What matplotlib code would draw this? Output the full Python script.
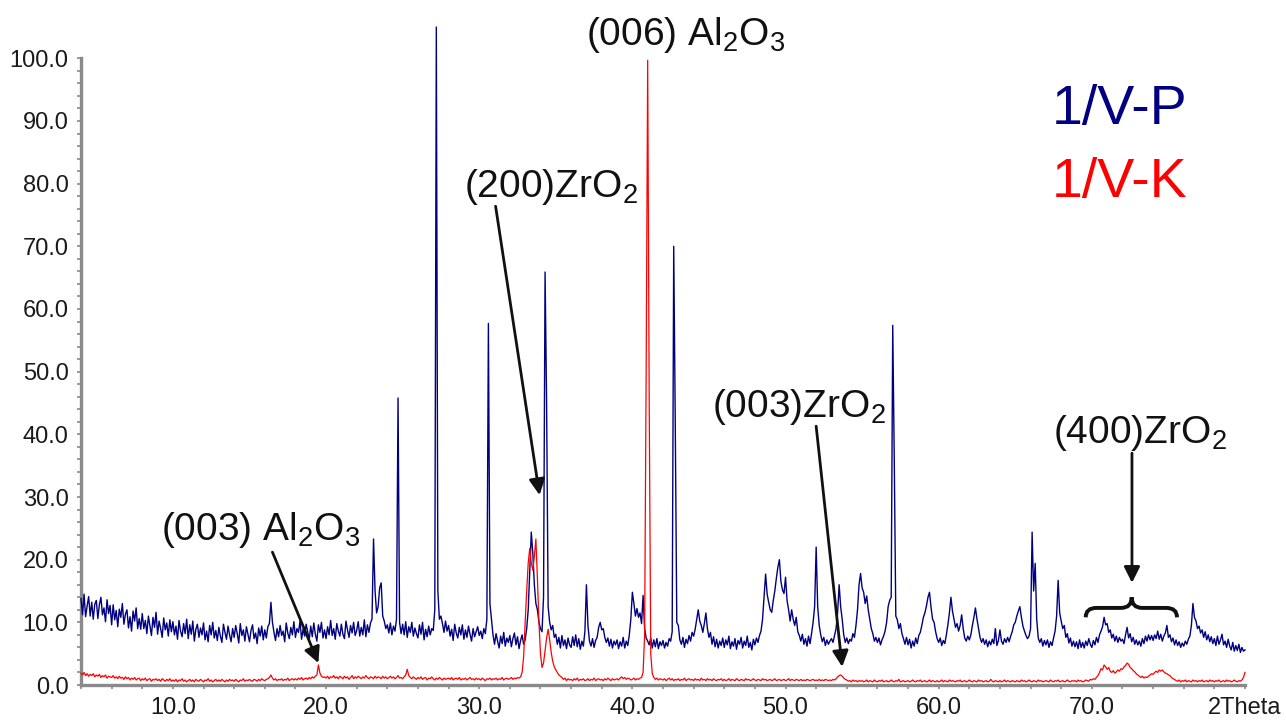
import numpy as np
import matplotlib
matplotlib.use("Agg")
import matplotlib.pyplot as plt
from matplotlib.path import Path
from matplotlib.patches import PathPatch

plt.rcParams['font.family'] = ['Liberation Sans', 'DejaVu Sans']
plt.rcParams['mathtext.default'] = 'regular'

# ---------------- data ----------------
# Intensities sampled every 0.1 deg 2Theta; one row per whole degree (start 4.0)
start_deg = 4
intensity_p = [  # sample 1/V-P (blue)
    [13.8, 11.2, 14.5, 10.9, 12.6, 14.1, 11.0, 13.2, 10.5, 12.9],  # 4
    [13.5, 10.6, 12.8, 14.0, 11.2, 12.3, 10.1, 13.6, 11.4, 12.7],  # 5
    [9.6, 12.8, 10.4, 11.9, 9.3, 12.1, 10.8, 13.0, 9.7, 11.3],  # 6
    [12.0, 9.1, 10.9, 8.6, 11.8, 10.2, 12.3, 9.0, 10.6, 8.9],  # 7
    [11.4, 9.0, 10.3, 8.2, 11.0, 9.5, 7.9, 10.8, 9.2, 11.6],  # 8
    [8.1, 10.2, 9.0, 7.6, 10.7, 8.8, 9.9, 7.8, 10.4, 8.5],  # 9
    [10.1, 8.0, 9.4, 7.3, 10.3, 8.6, 7.7, 9.8, 8.2, 10.5],  # 10
    [7.4, 9.6, 8.1, 10.2, 7.0, 8.9, 9.7, 7.6, 9.1, 8.0],  # 11
    [9.9, 7.2, 8.6, 6.9, 9.5, 8.0, 10.0, 7.5, 8.7, 7.1],  # 12
    [9.2, 7.8, 6.8, 9.7, 8.4, 7.3, 9.4, 8.0, 6.9, 9.0],  # 13
    [7.6, 9.5, 8.2, 6.7, 9.8, 7.9, 8.8, 7.0, 9.3, 8.1],  # 14
    [6.9, 8.7, 9.6, 7.4, 8.3, 6.6, 9.1, 7.8, 9.4, 7.2],  # 15
    [8.8, 7.5, 9.3, 9.8, 13.2, 10.0, 8.4, 7.1, 9.0, 7.7],  # 16
    [9.5, 7.9, 8.6, 6.9, 9.9, 8.3, 7.4, 9.2, 8.0, 10.1],  # 17
    [7.6, 9.0, 8.4, 10.2, 7.3, 8.9, 7.8, 9.7, 8.5, 7.2],  # 18
    [9.4, 7.7, 9.9, 8.1, 7.0, 9.6, 8.4, 10.0, 7.5, 8.8],  # 19
    [7.4, 9.3, 8.0, 10.3, 7.9, 9.0, 7.3, 9.8, 8.6, 7.8],  # 20
    [9.7, 8.1, 7.4, 10.2, 8.8, 7.6, 9.5, 8.3, 10.0, 7.9],  # 21
    [8.7, 10.1, 7.8, 9.2, 8.0, 10.4, 7.7, 9.6, 8.4, 9.9],  # 22
    [10.5, 23.3, 15.0, 11.5, 12.5, 15.5, 16.3, 11.0, 10.2, 9.0],  # 23
    [9.6, 8.3, 9.9, 8.0, 9.4, 8.6, 10.5, 45.8, 10.0, 8.2],  # 24
    [9.7, 8.0, 10.1, 7.6, 9.3, 8.4, 10.0, 7.8, 9.1, 8.2],  # 25
    [7.5, 9.6, 8.1, 10.0, 7.2, 8.9, 7.7, 9.4, 8.0, 9.0],  # 26
    [8.7, 12.0, 105.0, 15.0, 10.5, 11.0, 9.8, 8.4, 10.2, 8.6],  # 27
    [9.5, 7.8, 8.9, 7.1, 9.7, 8.3, 7.5, 9.2, 8.0, 9.6],  # 28
    [7.3, 8.8, 7.6, 9.4, 8.1, 7.0, 9.0, 7.7, 8.5, 9.3],  # 29
    [7.9, 8.6, 7.4, 9.0, 8.2, 10.5, 57.7, 13.0, 10.5, 8.0],  # 30
    [6.5, 8.2, 7.0, 5.9, 7.8, 6.6, 8.4, 6.2, 7.5, 6.8],  # 31
    [7.9, 6.1, 7.4, 8.3, 6.4, 7.7, 5.8, 7.1, 8.0, 6.5],  # 32
    [7.2, 9.0, 12.0, 18.0, 24.4, 21.0, 16.0, 13.0, 12.0, 10.0],  # 33
    [9.0, 8.5, 14.0, 65.9, 45.0, 12.5, 10.0, 8.8, 9.5, 7.6],  # 34
    [8.1, 6.5, 7.6, 5.9, 7.9, 6.3, 7.2, 5.8, 7.5, 6.4],  # 35
    [6.0, 7.7, 6.3, 8.0, 6.1, 7.4, 5.7, 7.0, 6.2, 8.5],  # 36
    [16.0, 9.5, 7.0, 6.2, 7.4, 6.0, 7.1, 7.6, 9.2, 10.0],  # 37
    [8.8, 9.0, 7.6, 6.8, 7.5, 6.2, 7.3, 5.9, 7.0, 6.4],  # 38
    [7.2, 5.8, 6.9, 6.2, 7.6, 5.9, 7.0, 6.3, 8.0, 10.5],  # 39
    [14.8, 13.0, 11.0, 12.2, 10.8, 11.5, 9.8, 14.3, 9.0, 7.5],  # 40
    [7.0, 6.4, 7.5, 5.9, 7.2, 6.1, 7.4, 5.8, 6.9, 6.3],  # 41
    [7.1, 5.9, 6.8, 6.2, 7.4, 7.0, 8.5, 70.0, 42.0, 10.0],  # 42
    [9.5, 7.2, 6.5, 7.6, 6.0, 7.3, 6.6, 7.9, 7.0, 8.4],  # 43
    [7.8, 8.9, 10.4, 12.0, 10.2, 9.5, 8.4, 9.8, 11.5, 9.0],  # 44
    [7.6, 8.4, 6.5, 7.7, 6.1, 7.3, 5.9, 7.0, 6.3, 7.5],  # 45
    [6.0, 7.2, 6.4, 7.8, 5.8, 6.9, 6.2, 7.4, 5.7, 7.1],  # 46
    [6.5, 7.6, 5.9, 7.0, 6.3, 7.8, 6.0, 6.8, 5.6, 7.3],  # 47
    [6.4, 7.5, 6.8, 7.9, 8.6, 10.5, 14.0, 17.7, 14.5, 13.2],  # 48
    [12.0, 11.6, 13.5, 15.0, 17.0, 18.8, 20.0, 16.5, 15.2, 14.6],  # 49
    [17.2, 13.5, 12.0, 10.2, 12.0, 10.5, 9.5, 10.8, 8.5, 7.9],  # 50
    [7.0, 8.1, 6.5, 7.4, 6.2, 7.8, 6.6, 8.2, 10.0, 12.5],  # 51
    [22.0, 12.5, 9.5, 8.0, 6.9, 7.6, 6.3, 7.2, 6.5, 7.0],  # 52
    [7.4, 6.8, 7.9, 9.0, 11.5, 16.0, 12.5, 10.5, 8.0, 6.8],  # 53
    [7.5, 6.6, 7.3, 7.0, 8.2, 7.6, 9.5, 12.0, 16.0, 17.8],  # 54
    [15.5, 14.8, 13.0, 14.2, 12.0, 10.5, 9.0, 8.2, 7.0, 7.6],  # 55
    [6.8, 7.5, 6.4, 7.2, 7.8, 8.6, 10.0, 12.5, 13.5, 14.0],  # 56
    [57.4, 35.9, 11.0, 10.4, 9.0, 9.8, 8.2, 7.4, 6.5, 7.6],  # 57
    [6.4, 7.3, 5.9, 7.0, 6.2, 7.5, 6.6, 7.9, 8.4, 9.5],  # 58
    [10.8, 11.5, 12.6, 14.0, 14.8, 12.4, 10.5, 10.0, 8.5, 7.4],  # 59
    [6.8, 7.5, 6.3, 7.1, 6.6, 8.0, 9.6, 11.5, 14.0, 11.8],  # 60
    [10.5, 9.2, 9.8, 8.6, 9.5, 11.2, 9.0, 7.5, 7.0, 7.8],  # 61
    [7.2, 8.0, 9.5, 10.8, 12.3, 10.5, 9.0, 7.6, 6.8, 7.4],  # 62
    [6.5, 7.2, 6.1, 7.0, 6.4, 7.3, 6.6, 9.0, 6.3, 7.1],  # 63
    [8.8, 7.0, 6.5, 7.4, 6.8, 7.6, 6.9, 7.8, 8.5, 9.6],  # 64
    [10.0, 11.0, 11.8, 12.5, 10.8, 9.4, 8.6, 7.9, 7.4, 7.8],  # 65
    [9.0, 24.4, 15.0, 19.4, 10.5, 7.5, 6.8, 7.4, 6.2, 7.1],  # 66
    [6.4, 7.2, 6.0, 6.9, 6.3, 7.5, 8.6, 11.0, 16.7, 11.5],  # 67
    [10.2, 9.0, 9.5, 7.6, 8.2, 6.7, 7.5, 6.2, 7.0, 6.1],  # 68
    [6.9, 5.8, 7.2, 6.0, 6.8, 5.9, 7.0, 6.3, 7.4, 6.5],  # 69
    [6.0, 7.1, 6.4, 7.6, 6.8, 8.0, 8.6, 9.3, 10.8, 9.6],  # 70
    [9.8, 8.4, 8.8, 7.5, 8.1, 7.0, 7.8, 6.8, 7.6, 7.0],  # 71
    [7.3, 6.6, 8.0, 9.2, 7.5, 8.2, 6.9, 7.6, 6.5, 7.2],  # 72
    [6.4, 7.0, 6.2, 7.4, 6.6, 7.8, 7.0, 8.0, 7.2, 7.9],  # 73
    [7.1, 8.0, 7.4, 8.6, 7.3, 8.1, 7.0, 7.8, 8.3, 9.5],  # 74
    [7.6, 8.0, 6.9, 7.5, 6.4, 7.2, 6.3, 6.9, 6.0, 6.7],  # 75
    [6.2, 7.0, 6.5, 7.3, 7.8, 9.5, 13.0, 10.8, 10.2, 9.0],  # 76
    [9.4, 8.3, 8.8, 7.6, 8.5, 7.2, 8.0, 6.9, 7.7, 6.6],  # 77
    [7.4, 6.3, 7.8, 6.5, 7.2, 8.1, 6.4, 7.0, 6.0, 7.3],  # 78
    [6.2, 5.6, 6.8, 5.4, 6.3, 5.5, 6.5, 5.2, 6.0, 5.4],  # 79
    [5.6],  # 80
]

intensity_k = [  # sample 1/V-K (red)
    [1.9, 1.6, 2.0, 1.5, 1.8, 1.4, 1.7, 1.5, 1.8, 1.3],  # 4
    [1.6, 1.4, 1.7, 1.2, 1.5, 1.3, 1.6, 1.1, 1.4, 1.3],  # 5
    [1.2, 1.5, 1.1, 1.3, 1.0, 1.4, 1.1, 1.2, 0.9, 1.3],  # 6
    [1.0, 1.2, 0.8, 1.1, 0.9, 1.2, 0.8, 1.0, 1.1, 0.7],  # 7
    [1.0, 0.8, 1.1, 0.7, 0.9, 1.0, 0.6, 0.9, 0.8, 1.0],  # 8
    [0.7, 0.9, 0.6, 1.0, 0.8, 0.6, 0.9, 0.7, 1.0, 0.6],  # 9
    [0.8, 0.6, 0.9, 0.5, 0.8, 0.7, 1.0, 0.6, 0.8, 0.5],  # 10
    [0.7, 0.9, 0.6, 0.8, 0.5, 0.9, 0.7, 0.6, 0.9, 0.7],  # 11
    [0.5, 0.8, 0.7, 1.0, 0.6, 0.8, 0.5, 0.7, 0.9, 0.6],  # 12
    [0.8, 0.6, 0.9, 0.7, 0.5, 0.8, 0.6, 0.9, 0.7, 0.8],  # 13
    [0.6, 0.9, 0.7, 0.5, 0.8, 0.7, 1.0, 0.6, 0.8, 0.7],  # 14
    [0.9, 0.7, 0.6, 0.9, 0.8, 0.6, 0.9, 0.7, 1.0, 0.8],  # 15
    [0.7, 0.9, 1.0, 1.2, 1.6, 1.1, 0.8, 1.0, 0.7, 0.9],  # 16
    [0.8, 1.0, 0.7, 0.9, 0.8, 1.1, 0.7, 0.9, 1.0, 0.8],  # 17
    [1.0, 0.8, 1.1, 0.9, 1.2, 0.8, 1.0, 1.1, 0.9, 1.2],  # 18
    [1.0, 1.3, 1.1, 1.4, 1.6, 3.2, 1.9, 1.4, 1.2, 1.3],  # 19
    [1.1, 1.4, 1.0, 1.3, 1.2, 1.5, 1.1, 1.3, 1.0, 1.4],  # 20
    [1.2, 1.0, 1.4, 1.1, 1.3, 0.9, 1.2, 1.5, 1.0, 1.3],  # 21
    [1.1, 1.4, 1.2, 1.0, 1.3, 1.1, 1.5, 1.2, 1.0, 1.3],  # 22
    [1.2, 1.0, 1.4, 1.1, 1.3, 1.2, 1.0, 1.4, 1.1, 1.3],  # 23
    [1.0, 1.2, 1.4, 1.1, 1.3, 1.0, 1.2, 1.5, 1.1, 1.2],  # 24
    [1.0, 1.3, 1.6, 2.5, 1.5, 1.2, 1.0, 1.3, 1.1, 0.9],  # 25
    [1.2, 1.0, 1.3, 0.9, 1.1, 1.2, 0.8, 1.1, 1.0, 1.3],  # 26
    [1.0, 0.8, 1.1, 0.9, 1.2, 1.0, 0.8, 1.1, 0.9, 1.0],  # 27
    [1.1, 0.9, 1.2, 0.8, 1.0, 1.1, 0.9, 1.2, 0.8, 1.0],  # 28
    [0.9, 1.1, 0.8, 1.0, 1.2, 0.9, 1.0, 0.8, 1.1, 0.9],  # 29
    [1.0, 0.8, 1.1, 0.9, 0.7, 1.0, 0.9, 1.1, 0.8, 1.0],  # 30
    [0.9, 1.1, 0.8, 1.0, 0.9, 1.2, 0.8, 1.0, 1.1, 0.9],  # 31
    [1.0, 1.2, 0.9, 1.1, 1.0, 1.2, 1.1, 1.3, 2.0, 4.5],  # 32
    [10.0, 15.0, 19.5, 21.8, 19.5, 18.3, 20.5, 23.3, 17.0, 10.0],  # 33
    [5.0, 2.8, 3.5, 5.5, 7.5, 8.9, 7.2, 5.2, 3.8, 2.9],  # 34
    [2.4, 2.0, 1.6, 1.4, 1.2, 0.9, 1.1, 0.7, 1.0, 0.8],  # 35
    [0.9, 0.7, 1.0, 0.8, 1.1, 0.7, 0.9, 0.8, 1.0, 0.7],  # 36
    [0.8, 1.0, 0.7, 0.9, 0.8, 1.1, 0.7, 0.9, 1.0, 0.8],  # 37
    [0.9, 0.7, 1.0, 0.8, 1.1, 0.9, 0.7, 1.0, 0.8, 0.9],  # 38
    [1.0, 0.8, 1.1, 1.3, 1.0, 1.2, 0.9, 1.1, 1.0, 0.8],  # 39
    [0.9, 1.1, 0.8, 1.0, 0.9, 1.1, 1.2, 2.0, 8.0, 50.0],  # 40
    [99.7, 45.0, 5.0, 1.8, 1.2, 0.9, 1.1, 0.8, 1.0, 0.9],  # 41
    [0.8, 1.0, 0.7, 0.9, 1.1, 0.8, 1.0, 0.7, 0.9, 0.8],  # 42
    [1.0, 0.7, 0.9, 0.8, 1.1, 0.7, 0.9, 1.0, 0.8, 0.9],  # 43
    [0.7, 1.0, 0.8, 0.9, 0.7, 1.1, 0.8, 0.9, 0.7, 1.0],  # 44
    [0.8, 0.9, 0.7, 1.0, 0.8, 0.7, 0.9, 0.8, 1.0, 0.7],  # 45
    [0.9, 0.7, 0.8, 1.0, 0.7, 0.9, 0.8, 0.7, 1.0, 0.8],  # 46
    [0.7, 0.9, 0.8, 0.7, 1.0, 0.8, 0.9, 0.7, 0.8, 1.0],  # 47
    [0.8, 0.7, 0.9, 0.8, 0.7, 1.0, 0.8, 0.9, 0.7, 0.8],  # 48
    [0.9, 0.7, 0.8, 1.0, 0.7, 0.8, 0.9, 0.7, 0.8, 0.9],  # 49
    [0.7, 0.8, 1.0, 0.7, 0.9, 0.8, 0.7, 0.9, 0.8, 0.7],  # 50
    [0.9, 0.7, 0.8, 0.7, 0.9, 0.8, 0.7, 0.8, 0.9, 0.7],  # 51
    [0.8, 0.7, 0.9, 0.7, 0.8, 0.7, 0.9, 0.8, 0.7, 0.8],  # 52
    [0.7, 0.9, 0.8, 1.0, 1.3, 1.5, 1.6, 1.4, 1.1, 0.9],  # 53
    [0.8, 0.6, 0.7, 0.5, 0.8, 0.6, 0.7, 0.5, 0.7, 0.6],  # 54
    [0.7, 0.5, 0.6, 0.8, 0.5, 0.7, 0.6, 0.5, 0.8, 0.6],  # 55
    [0.5, 0.7, 0.6, 0.8, 0.5, 0.6, 0.7, 0.5, 0.6, 0.8],  # 56
    [0.6, 0.5, 0.7, 0.6, 0.9, 0.5, 0.6, 0.7, 0.5, 0.6],  # 57
    [0.7, 0.5, 0.6, 0.8, 0.6, 0.5, 0.7, 0.6, 0.8, 0.5],  # 58
    [0.6, 0.7, 0.5, 0.6, 0.8, 0.5, 0.7, 0.6, 0.5, 0.7],  # 59
    [0.5, 0.6, 0.8, 0.5, 0.7, 0.6, 0.5, 0.8, 0.6, 0.7],  # 60
    [0.6, 0.5, 0.7, 0.6, 0.8, 0.5, 0.6, 0.7, 0.5, 0.6],  # 61
    [0.8, 0.6, 0.5, 0.7, 0.6, 0.5, 0.8, 0.6, 0.7, 0.5],  # 62
    [0.6, 0.7, 0.5, 0.6, 0.9, 0.6, 0.5, 0.7, 0.6, 0.5],  # 63
    [0.7, 0.5, 0.6, 0.8, 0.5, 0.7, 0.6, 0.5, 0.7, 0.6],  # 64
    [0.5, 0.7, 0.6, 0.5, 0.8, 0.6, 0.7, 0.5, 0.6, 0.8],  # 65
    [0.6, 0.5, 0.7, 0.6, 0.5, 0.8, 0.6, 0.7, 0.5, 0.6],  # 66
    [0.7, 0.6, 0.5, 0.8, 0.6, 0.5, 0.7, 0.6, 0.8, 0.5],  # 67
    [0.6, 0.7, 0.5, 0.6, 0.8, 0.6, 0.5, 0.7, 0.6, 0.7],  # 68
    [0.5, 0.8, 0.6, 0.7, 0.5, 0.6, 0.8, 0.7, 0.6, 0.9],  # 69
    [0.8, 1.0, 0.9, 1.2, 1.5, 2.0, 2.6, 2.4, 3.2, 2.9],  # 70
    [2.5, 2.8, 2.2, 2.0, 2.3, 1.9, 2.1, 2.4, 2.2, 2.6],  # 71
    [2.5, 2.9, 3.1, 3.5, 3.3, 2.8, 2.6, 2.3, 2.1, 1.8],  # 72
    [1.6, 1.4, 1.2, 1.4, 1.1, 1.3, 1.2, 1.4, 1.6, 1.8],  # 73
    [1.7, 2.0, 2.2, 2.0, 2.4, 2.2, 2.4, 2.1, 1.9, 1.8],  # 74
    [1.6, 1.5, 1.2, 1.0, 0.9, 0.7, 0.6, 0.8, 0.5, 0.7],  # 75
    [0.6, 0.8, 0.5, 0.7, 0.6, 0.5, 0.8, 0.6, 0.7, 0.5],  # 76
    [0.7, 0.6, 0.8, 0.5, 0.6, 0.7, 0.5, 0.8, 0.6, 0.7],  # 77
    [0.5, 0.7, 0.6, 0.8, 0.5, 0.6, 0.7, 0.5, 0.8, 0.6],  # 78
    [0.7, 0.5, 0.6, 0.8, 0.6, 0.5, 0.7, 0.6, 0.8, 1.2],  # 79
    [2.0],  # 80
]

series_names = ["1/V-P", "1/V-K"]
series_colors = ["#000080", "#ff0000"]

x_ticks = [10, 20, 30, 40, 50, 60, 70, 80]
x_tick_labels = ["10.0", "20.0", "30.0", "40.0", "50.0", "60.0", "70.0", "2Theta"]
y_ticks = [0, 10, 20, 30, 40, 50, 60, 70, 80, 90, 100]
y_tick_labels = ["0.0", "10.0", "20.0", "30.0", "40.0", "50.0", "60.0", "70.0",
                 "80.0", "90.0", "100.0"]


def unroll(rows, first):
    xs, ys = [], []
    for k, row in enumerate(rows):
        for i, v in enumerate(row):
            xs.append(round(first + k + 0.1 * i, 2))
            ys.append(v)
    return np.array(xs), np.array(ys)


x_p, y_p = unroll(intensity_p, start_deg)
x_k, y_k = unroll(intensity_k, start_deg)

# ---------------- figure ----------------
W, H = 1286, 720
fig = plt.figure(figsize=(W / 100, H / 100), dpi=100)
ax = fig.add_axes([81 / W, 35 / H, (1245 - 81) / W, 658 / H])
ax.set_xlim(4, 80)
ax.set_ylim(0, 105)

ax.plot(x_p, y_p, color=series_colors[0], lw=1.0, clip_on=False, zorder=3)
ax.plot(x_k, y_k, color=series_colors[1], lw=0.9, clip_on=False, zorder=4)

# axes styling
axis_gray = "#8a8a8a"
for s in ["top", "right"]:
    ax.spines[s].set_visible(False)
for s in ["left", "bottom"]:
    ax.spines[s].set_color(axis_gray)
    ax.spines[s].set_linewidth(2.4)
ax.spines["left"].set_bounds(0, 100)

ax.set_xticks(x_ticks)
ax.set_xticklabels(x_tick_labels)
ax.set_yticks(y_ticks)
ax.set_yticklabels(y_tick_labels)
ax.set_xticks(np.arange(4, 80.1, 2), minor=True)
ax.set_yticks(np.arange(0, 100.1, 2), minor=True)
ax.tick_params(axis="both", which="major", labelsize=17, colors=axis_gray,
               labelcolor="#1a1a1a", length=3, width=1.2)
ax.tick_params(axis="both", which="minor", colors=axis_gray, length=3, width=1.2)
ax.tick_params(axis="x", which="major", pad=6)
ax.tick_params(axis="y", which="major", pad=6)

# ---------------- annotations ----------------
fs = 28
txt_kw = dict(fontsize=fs, color="#111111", ha="center", va="baseline")
ax.text(43.5, 102.1, "(006) Al$_2$O$_3$", **txt_kw)
ax.text(34.7, 77.8, "(200)ZrO$_2$", **txt_kw)
ax.text(15.75, 23.1, "(003) Al$_2$O$_3$", **txt_kw)
ax.text(50.9, 42.7, "(003)ZrO$_2$", **txt_kw)
ax.text(73.15, 38.6, "(400)ZrO$_2$", **txt_kw)

arrow_kw = dict(arrowstyle="-|>", color="#111111", lw=2.0, mutation_scale=24,
                shrinkA=0, shrinkB=0)
for start, end in [((31.07, 76.4), (33.94, 30.3)),
                   ((16.5, 21.2), (19.5, 3.5)),
                   ((52.0, 41.3), (53.7, 2.9)),
                   ((72.62, 37.0), (72.62, 16.3))]:
    ax.annotate("", xy=end, xytext=start, arrowprops=arrow_kw, zorder=6)

# curly brace over the (400) region
bx0, bx1, bm = 69.6, 75.56, 72.6
yb0, yb1, ytip = 10.8, 12.3, 14.0
verts = [(bx0, yb0), (bx0, yb1), (bx0 + 0.7, yb1),
         (bm - 0.7, yb1), (bm, yb1), (bm, ytip),
         (bm, yb1), (bm + 0.7, yb1),
         (bx1 - 0.7, yb1), (bx1, yb1), (bx1, yb0)]
codes = [Path.MOVETO, Path.CURVE3, Path.CURVE3,
         Path.LINETO, Path.CURVE3, Path.CURVE3,
         Path.CURVE3, Path.CURVE3,
         Path.LINETO, Path.CURVE3, Path.CURVE3]
ax.add_patch(PathPatch(Path(verts, codes), fill=False, lw=2.8,
                       edgecolor="#111111", zorder=6, capstyle="butt"))

# series labels
ax.text(67.4, 89.6, series_names[0], fontsize=40, color=series_colors[0],
        ha="left", va="baseline")
ax.text(67.4, 77.8, series_names[1], fontsize=40, color=series_colors[1],
        ha="left", va="baseline")

fig.savefig("out.png", dpi=100)
